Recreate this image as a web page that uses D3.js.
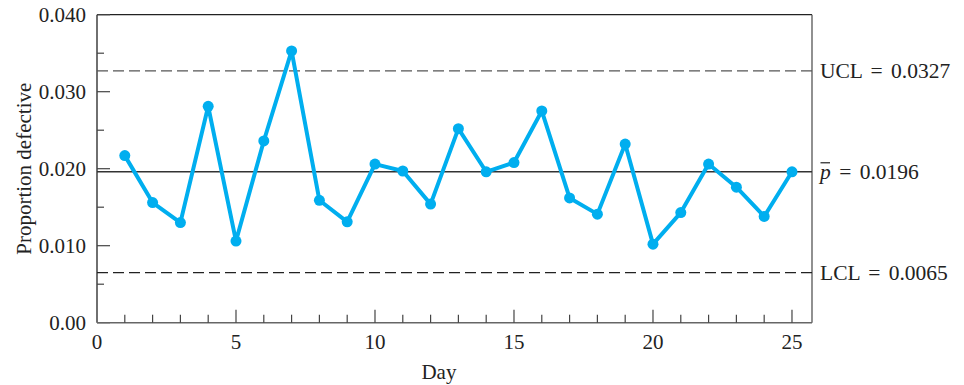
<!DOCTYPE html>
<html>
<head>
<meta charset="utf-8">
<script src="https://cdn.jsdelivr.net/npm/d3@7"></script>
<style>
  html, body { margin: 0; padding: 0; background: #fff; }
  svg text { font-family: "Liberation Serif", "Times New Roman", serif; fill: #222; }
</style>
</head>
<body>
<svg id="chart" width="964" height="385"></svg>
<script>
// Daily proportion defective, days 1–25
const days = d3.range(1, 26);
const proportions = [
  0.0217, 0.0156, 0.0130, 0.0281, 0.0106, 0.0236, 0.0353, 0.0159, 0.0131, 0.0206,
  0.0197, 0.0154, 0.0252, 0.0196, 0.0208, 0.0275, 0.0162, 0.0141, 0.0232, 0.0102,
  0.0143, 0.0206, 0.0176, 0.0138, 0.0196
];
// Control limits
const ucl = 0.0327;
const pBar = 0.0196;
const lcl = 0.0065;
const yMajorTicks = [0, 0.01, 0.02, 0.03, 0.04];
const yTickLabels = ["0.00", "0.010", "0.020", "0.030", "0.040"];
const yMinorTicks = [0.005, 0.015, 0.025, 0.035];
const xMajorTicks = [0, 5, 10, 15, 20, 25];

const svg = d3.select("#chart");
const plotLeft = 97, plotRight = 812, plotTop = 14.7, plotBottom = 322.7;

const x = d3.scaleLinear().domain([0, 25.72]).range([plotLeft, plotRight]);
const y = d3.scaleLinear().domain([0, 0.04]).range([plotBottom, plotTop]);

// Frame: top and right edges
svg.append("line").attr("x1", plotLeft).attr("x2", plotRight).attr("y1", plotTop).attr("y2", plotTop)
  .attr("stroke", "#222").attr("stroke-width", 1.3);
svg.append("line").attr("x1", plotRight).attr("x2", plotRight).attr("y1", plotTop).attr("y2", plotBottom)
  .attr("stroke", "#555").attr("stroke-width", 1.3);

// Left axis: inward ticks
const yAxis = svg.append("g").attr("transform", `translate(${plotLeft},0)`);
yAxis.append("line").attr("y1", plotTop).attr("y2", plotBottom).attr("stroke", "#222").attr("stroke-width", 1.3);
yAxis.selectAll(".maj").data(yMajorTicks).join("line")
  .attr("x1", 0).attr("x2", 13).attr("y1", d => y(d)).attr("y2", d => y(d))
  .attr("stroke", "#444").attr("stroke-width", 1.2);
yAxis.selectAll(".min").data(yMinorTicks).join("line")
  .attr("x1", 0).attr("x2", 7).attr("y1", d => y(d)).attr("y2", d => y(d))
  .attr("stroke", "#444").attr("stroke-width", 1.2);
yAxis.selectAll("text").data(yMajorTicks).join("text")
  .attr("x", -11).attr("y", d => y(d)).attr("dy", "0.35em")
  .attr("text-anchor", "end").attr("font-size", 21)
  .text((d, i) => yTickLabels[i]);

// Bottom axis: inward ticks at every day, longer every five
const xAxis = svg.append("g").attr("transform", `translate(0,${plotBottom})`);
xAxis.append("line").attr("x1", plotLeft).attr("x2", plotRight).attr("stroke", "#666").attr("stroke-width", 1.5);
xAxis.selectAll(".minx").data(days.filter(d => d % 5 !== 0)).join("line")
  .attr("x1", d => x(d)).attr("x2", d => x(d)).attr("y1", 0).attr("y2", -8)
  .attr("stroke", "#444").attr("stroke-width", 1.2);
xAxis.selectAll(".majx").data(xMajorTicks.filter(d => d > 0)).join("line")
  .attr("x1", d => x(d)).attr("x2", d => x(d)).attr("y1", 0).attr("y2", -13)
  .attr("stroke", "#444").attr("stroke-width", 1.2);
xAxis.selectAll("text").data(xMajorTicks).join("text")
  .attr("x", d => x(d)).attr("y", 26)
  .attr("text-anchor", "middle").attr("font-size", 21)
  .text(d => d);

// Axis titles
svg.append("text").attr("x", x(12.3)).attr("y", 379)
  .attr("text-anchor", "middle").attr("font-size", 21).text("Day");
svg.append("text")
  .attr("transform", `translate(31,${(plotTop + plotBottom) / 2}) rotate(-90)`)
  .attr("text-anchor", "middle").attr("font-size", 21).text("Proportion defective");

// Control lines
svg.append("line").attr("x1", plotLeft).attr("x2", plotRight).attr("y1", y(ucl)).attr("y2", y(ucl))
  .attr("stroke", "#555").attr("stroke-width", 1.4).attr("stroke-dasharray", "11,5");
svg.append("line").attr("x1", plotLeft).attr("x2", plotRight).attr("y1", y(lcl)).attr("y2", y(lcl))
  .attr("stroke", "#222").attr("stroke-width", 1.3).attr("stroke-dasharray", "11,5");
svg.append("line").attr("x1", plotLeft).attr("x2", plotRight).attr("y1", y(pBar)).attr("y2", y(pBar))
  .attr("stroke", "#333").attr("stroke-width", 1.4);

// Right-hand labels
const labelX = 820;
svg.append("text").attr("x", labelX).attr("y", y(ucl)).attr("dy", "0.35em")
  .attr("font-size", 21.5).attr("word-spacing", 3).text("UCL = 0.0327");
const pl = svg.append("text").attr("x", labelX).attr("y", y(pBar)).attr("dy", "0.35em")
  .attr("font-size", 21.5).attr("word-spacing", 3);
pl.append("tspan").attr("font-style", "italic").text("p");
pl.append("tspan").text(" = 0.0196");
svg.append("line").attr("x1", labelX + 0.5).attr("x2", labelX + 10).attr("y1", y(pBar) - 9).attr("y2", y(pBar) - 9)
  .attr("stroke", "#222").attr("stroke-width", 1.2);
svg.append("text").attr("x", labelX).attr("y", y(lcl)).attr("dy", "0.35em")
  .attr("font-size", 21.5).attr("word-spacing", 3).text("LCL = 0.0065");

// Data line and markers
const line = d3.line().x((d, i) => x(days[i])).y(d => y(d));
svg.append("path").datum(proportions).attr("d", line)
  .attr("fill", "none").attr("stroke", "#00AEEF").attr("stroke-width", 4)
  .attr("stroke-linejoin", "round");
svg.selectAll(".pt").data(proportions).join("circle")
  .attr("cx", (d, i) => x(days[i])).attr("cy", d => y(d)).attr("r", 5.5)
  .attr("fill", "#00AEEF");
</script>
</body>
</html>
